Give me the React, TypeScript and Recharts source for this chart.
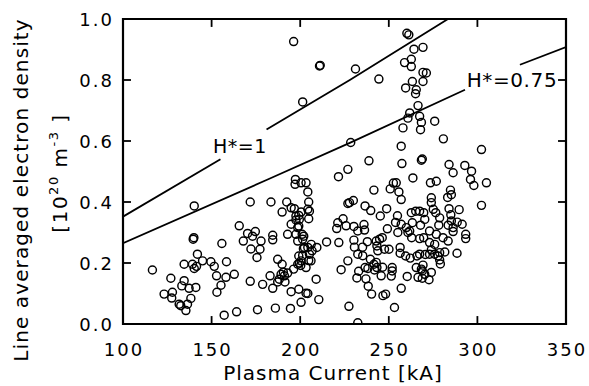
import React from 'react';
import { ScatterChart, Scatter, XAxis, YAxis, ReferenceDot, ReferenceArea, ReferenceLine } from 'recharts';

const FONT = '"DejaVu Sans", Verdana, sans-serif';

const xTicks = [100, 150, 200, 250, 300, 350];
const yTicks = [0, 0.2, 0.4, 0.6, 0.8, 1.0];
const xInnerTicks = [150, 200, 250, 300];
const yInnerTicks = [0.2, 0.4, 0.6, 0.8];

// [plasma current kA, line averaged density 1e20 m^-3]
const shotsLowCurrent: [number, number][] = [
  [116.6, 0.177], [123.2, 0.098], [127.0, 0.150], [127.9, 0.104], [127.5, 0.085], [131.7, 0.065],
  [132.6, 0.060], [133.2, 0.125], [134.5, 0.142], [134.5, 0.196], [135.5, 0.044], [136.4, 0.065],
  [137.3, 0.117], [138.3, 0.084], [139.2, 0.196], [139.6, 0.278], [140.0, 0.283], [140.2, 0.387],
  [140.2, 0.182], [141.1, 0.120], [141.5, 0.189], [142.0, 0.229], [144.9, 0.207], [149.6, 0.204],
  [151.5, 0.189], [152.8, 0.158], [153.0, 0.104], [155.3, 0.127], [155.8, 0.264], [157.1, 0.029],
  [158.1, 0.153], [158.4, 0.204], [162.8, 0.163], [164.1, 0.040], [165.6, 0.322], [167.9, 0.272],
  [170.3, 0.297], [171.8, 0.400], [171.8, 0.140], [172.2, 0.246], [173.1, 0.288], [174.7, 0.303],
  [175.6, 0.218], [175.9, 0.047], [177.3, 0.245], [177.9, 0.272], [178.8, 0.130],
];

const shotsMidCurrent: [number, number][] = [
  [183.0, 0.158], [183.5, 0.400], [184.5, 0.291], [184.5, 0.276], [184.5, 0.117], [186.0, 0.052],
  [187.3, 0.212], [187.3, 0.138], [188.2, 0.147], [189.2, 0.163], [189.8, 0.196], [189.8, 0.367],
  [190.5, 0.170], [191.1, 0.158], [191.4, 0.138], [192.4, 0.400], [192.9, 0.167], [192.9, 0.294],
  [194.5, 0.051], [194.9, 0.106], [194.9, 0.327], [194.9, 0.381], [196.3, 0.180], [196.3, 0.926],
  [196.7, 0.378], [197.3, 0.474], [197.1, 0.458], [197.6, 0.354], [197.6, 0.294], [197.6, 0.341],
  [198.6, 0.316], [198.6, 0.272], [198.6, 0.196], [199.5, 0.200], [200.3, 0.192], [199.2, 0.114],
  [199.2, 0.321], [199.2, 0.356], [199.2, 0.223], [199.5, 0.343], [200.5, 0.071], [200.5, 0.367],
  [200.5, 0.207], [200.5, 0.463], [201.1, 0.294], [201.4, 0.278], [201.4, 0.225], [201.4, 0.728],
  [201.8, 0.247], [202.0, 0.288], [202.4, 0.251], [203.3, 0.185], [203.3, 0.101], [203.3, 0.463],
  [204.3, 0.100], [204.3, 0.376], [204.3, 0.433], [204.3, 0.251], [204.8, 0.345], [204.8, 0.400],
  [204.8, 0.208], [205.2, 0.370], [205.2, 0.229], [206.1, 0.207], [206.2, 0.261], [206.7, 0.240],
  [209.0, 0.147], [209.4, 0.251], [210.5, 0.080], [210.9, 0.846], [211.3, 0.848], [214.9, 0.269],
];

const shotsUpperCurrent: [number, number][] = [
  [220.6, 0.313], [221.2, 0.332], [221.6, 0.483], [221.8, 0.267], [223.1, 0.178], [224.2, 0.345],
  [225.9, 0.322], [226.9, 0.395], [226.9, 0.507], [226.9, 0.207], [227.5, 0.058], [227.8, 0.398],
  [228.5, 0.595], [230.0, 0.405], [230.3, 0.275], [230.3, 0.320], [230.6, 0.252], [231.2, 0.836],
  [232.0, 0.151], [232.5, 0.305], [232.5, 0.229], [233.0, 0.173], [232.5, 0.004], [235.2, 0.252],
  [236.0, 0.326], [235.3, 0.224], [236.6, 0.387], [236.3, 0.308], [236.6, 0.185], [237.1, 0.148],
  [237.9, 0.270], [238.2, 0.182], [238.4, 0.124], [238.8, 0.535], [239.6, 0.212], [239.8, 0.372],
  [240.3, 0.098], [241.6, 0.439], [241.6, 0.196], [241.9, 0.177], [242.9, 0.272], [242.9, 0.202],
  [243.3, 0.256], [243.3, 0.185], [243.8, 0.240], [244.4, 0.803], [244.8, 0.278], [245.2, 0.354],
  [245.7, 0.158], [246.3, 0.283], [246.5, 0.186], [246.7, 0.093], [247.6, 0.245], [248.2, 0.098],
  [248.8, 0.378], [249.2, 0.312], [250.1, 0.245], [250.8, 0.443], [251.4, 0.157], [251.9, 0.185],
  [251.9, 0.174], [252.6, 0.462], [253.2, 0.054], [253.8, 0.333], [254.2, 0.463], [254.9, 0.355],
  [255.1, 0.300], [255.7, 0.433], [256.4, 0.251], [256.4, 0.232], [257.0, 0.408], [257.0, 0.327],
  [257.0, 0.117], [257.0, 0.583], [257.4, 0.526], [258.0, 0.643], [258.9, 0.857], [259.5, 0.774],
  [259.5, 0.223], [259.9, 0.316],
];

const shotsHighCurrent: [number, number][] = [
  [260.2, 0.953], [260.4, 0.156], [260.8, 0.300], [260.8, 0.675], [261.3, 0.948], [261.8, 0.692],
  [261.8, 0.305], [262.1, 0.216], [262.7, 0.868], [262.7, 0.844], [262.9, 0.283], [262.7, 0.365],
  [263.3, 0.795], [263.3, 0.332], [263.6, 0.479], [264.2, 0.901], [265.1, 0.755], [265.2, 0.370],
  [265.5, 0.768], [265.5, 0.185], [265.9, 0.223], [266.5, 0.716], [266.5, 0.153], [267.4, 0.681],
  [267.4, 0.370], [267.9, 0.324], [267.4, 0.280], [267.4, 0.229], [267.9, 0.637], [268.4, 0.661],
  [268.4, 0.537], [268.4, 0.180], [268.9, 0.541], [268.9, 0.174], [268.9, 0.150], [269.3, 0.907],
  [269.3, 0.825], [269.3, 0.795], [269.3, 0.193], [269.7, 0.365], [269.7, 0.283], [270.3, 0.343],
  [270.6, 0.228], [270.3, 0.163], [271.2, 0.823], [272.7, 0.145], [273.0, 0.305], [273.0, 0.267],
  [273.0, 0.229], [273.5, 0.463], [274.0, 0.414], [274.0, 0.398], [274.0, 0.243], [274.0, 0.169],
  [275.1, 0.376], [275.9, 0.665], [275.9, 0.261], [275.9, 0.229], [276.5, 0.365], [276.8, 0.468],
  [276.8, 0.294], [277.8, 0.223], [278.2, 0.324], [278.7, 0.348], [278.7, 0.234], [278.7, 0.210],
  [279.1, 0.197], [280.6, 0.283], [280.8, 0.607], [281.6, 0.236], [283.2, 0.415], [283.5, 0.324],
  [283.5, 0.272], [284.0, 0.523], [284.0, 0.378], [284.8, 0.439], [285.0, 0.358], [285.3, 0.424],
  [285.3, 0.338], [286.3, 0.496], [286.3, 0.316], [286.3, 0.303], [288.6, 0.334], [288.5, 0.232],
  [289.7, 0.375], [291.4, 0.327], [292.9, 0.520], [293.4, 0.294], [293.4, 0.280], [296.1, 0.474],
  [296.7, 0.501], [298.0, 0.454], [302.3, 0.572], [302.3, 0.389], [305.1, 0.463],
];

// H* = 1 and H* = 0.75 curves (broken where their labels sit)
const hOneLeft: [number, number][] = [[100, 0.352], [155, 0.540]];
const hOneRight: [number, number][] = [[181, 0.638], [228, 0.800], [283.4, 1.0]];
const hThreeQuarterLeft: [number, number][] = [[100, 0.265], [181, 0.472], [228, 0.594], [293, 0.768]];
const hThreeQuarterRight: [number, number][] = [[324, 0.850], [350, 0.908]];

const hOneLabel = { x: 166, y: 0.584, text: 'H*=1' };
const hThreeQuarterLabel = { x: 319.5, y: 0.8, text: 'H*=0.75' };

// axis extents and inward tick lengths (in data units)
const xMin = 100, xMax = 350, yMin = 0, yMax = 1;
const xTickLen = 4.5, yTickLen = 0.026;

const toPts = (arr: [number, number][]) => arr.map(([x, y]) => ({ x, y }));
const shots = toPts([...shotsLowCurrent, ...shotsMidCurrent, ...shotsUpperCurrent, ...shotsHighCurrent]);

const Ring = (p: any) =>
  p.cx == null ? <g /> : <circle cx={p.cx} cy={p.cy} r={4} fill="none" stroke="#000" strokeWidth={1.45} />;
const NoDot = () => <g />;

const BottomTick = (p: any) => (
  <text x={p.x + 1} y={p.y + 32} textAnchor="middle" fontSize={18} letterSpacing={2} fontFamily={FONT} fill="#000">
    {p.payload.value}
  </text>
);
const LeftTick = (p: any) => (
  <text x={p.x - 9} y={p.y + 7} textAnchor="end" fontSize={18} letterSpacing={2} fontFamily={FONT} fill="#000">
    {Number(p.payload.value).toFixed(1)}
  </text>
);

const xLabel = () => (
  <text x={333} y={380} textAnchor="middle" fontSize={20} letterSpacing={1} fontFamily={FONT} fill="#000">
    Plasma Current [kA]
  </text>
);
const yLabel = () => (
  <g fontFamily={FONT} fill="#000">
    <text transform="translate(28,190) rotate(-90)" textAnchor="middle" fontSize={20} letterSpacing={1.1}>
      Line averaged electron density
    </text>
    <text transform="translate(67,173) rotate(-90)" textAnchor="middle" fontSize={20} letterSpacing={1.5}>
      [10<tspan dy={-9} fontSize={13}>20</tspan>
      <tspan dy={9}> m</tspan>
      <tspan dy={-9} fontSize={13}>-3</tspan>
      <tspan dy={9}> ]</tspan>
    </text>
  </g>
);

const curveLabel = (text: string, size: number, spacing: number) => (p: any) => (
  <text x={p.cx} y={p.cy + 7} textAnchor="middle" fontSize={size} letterSpacing={spacing} fontFamily={FONT} fill="#000">
    {text}
  </text>
);

const lineStyle = { stroke: '#000', strokeWidth: 1.8 };

export default function App() {
  return (
    <div style={{ position: 'absolute', left: 0, top: 0, background: '#fff' }}>
      <ScatterChart width={589} height={386} margin={{ top: 19, right: 23, bottom: 0, left: 0 }}>
        <XAxis
          type="number"
          dataKey="x"
          domain={[xMin, xMax]}
          ticks={xTicks}
          interval={0}
          allowDataOverflow
          height={62}
          tickSize={0}
          tickMargin={0}
          tickLine={false}
          axisLine={false}
          tick={BottomTick}
          label={xLabel}
        />
        <YAxis
          type="number"
          dataKey="y"
          domain={[yMin, yMax]}
          ticks={yTicks}
          interval={0}
          allowDataOverflow
          width={123}
          tickSize={0}
          tickMargin={0}
          tickLine={false}
          axisLine={false}
          tick={LeftTick}
          label={yLabel}
        />
        <ReferenceArea
          x1={xMin}
          x2={xMax}
          y1={yMin}
          y2={yMax}
          fill="none"
          fillOpacity={0}
          stroke="#000"
          strokeWidth={2.2}
          strokeOpacity={1}
          ifOverflow="visible"
        />
        {xInnerTicks.map((v) => (
          <ReferenceLine
            key={'b' + v}
            segment={[{ x: v, y: yMin }, { x: v, y: yMin + yTickLen }]}
            stroke="#000"
            strokeWidth={1.8}
            ifOverflow="visible"
          />
        ))}
        {xInnerTicks.map((v) => (
          <ReferenceLine
            key={'t' + v}
            segment={[{ x: v, y: yMax }, { x: v, y: yMax - yTickLen }]}
            stroke="#000"
            strokeWidth={1.8}
            ifOverflow="visible"
          />
        ))}
        {yInnerTicks.map((v) => (
          <ReferenceLine
            key={'l' + v}
            segment={[{ x: xMin, y: v }, { x: xMin + xTickLen, y: v }]}
            stroke="#000"
            strokeWidth={1.8}
            ifOverflow="visible"
          />
        ))}
        {yInnerTicks.map((v) => (
          <ReferenceLine
            key={'r' + v}
            segment={[{ x: xMax, y: v }, { x: xMax - xTickLen, y: v }]}
            stroke="#000"
            strokeWidth={1.8}
            ifOverflow="visible"
          />
        ))}
        <Scatter data={toPts(hOneLeft)} line={lineStyle} shape={NoDot} isAnimationActive={false} />
        <Scatter data={toPts(hOneRight)} line={lineStyle} shape={NoDot} isAnimationActive={false} />
        <Scatter data={toPts(hThreeQuarterLeft)} line={lineStyle} shape={NoDot} isAnimationActive={false} />
        <Scatter data={toPts(hThreeQuarterRight)} line={lineStyle} shape={NoDot} isAnimationActive={false} />
        <Scatter data={shots} shape={Ring} isAnimationActive={false} />
        <ReferenceDot x={hOneLabel.x} y={hOneLabel.y} r={0} shape={curveLabel(hOneLabel.text, 19, 0.5)} />
        <ReferenceDot
          x={hThreeQuarterLabel.x}
          y={hThreeQuarterLabel.y}
          r={0}
          shape={curveLabel(hThreeQuarterLabel.text, 20, 0.6)}
        />
      </ScatterChart>
    </div>
  );
}
